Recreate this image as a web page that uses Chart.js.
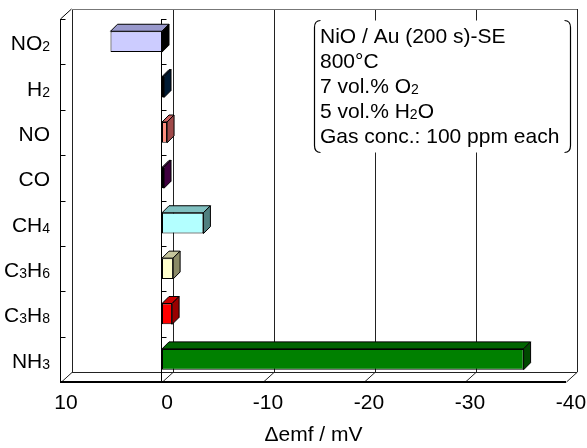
<!DOCTYPE html>
<html>
<head>
<meta charset="utf-8">
<script src="https://cdn.jsdelivr.net/npm/chart.js@4.4.1/dist/chart.umd.min.js"></script>
<style>
    html, body { margin: 0; padding: 0; background: #fff; }
</style>
</head>
<body>
<canvas id="graficoEmf" width="587" height="448"></canvas>
<script>
// Dados
const gases = ['NO₂', 'H₂', 'NO', 'CO', 'CH₄', 'C₃H₆', 'C₃H₈', 'NH₃'];
const deltaEmf = [5.1, -0.2, -0.5, -0.2, -4.1, -1.1, -1.0, -35.8];
const xTicks = [10, 0, -10, -20, -30, -40];
const infoLinhas = ['NiO / Au (200 s)-SE', '800°C', '7 vol.% O₂', '5 vol.% H₂O', 'Gas conc.: 100 ppm each'];

// Cores (frente, topo, lado) de cada barra
const corFrente = ['#ccccff', '#003366', '#ff9080', '#660066', '#b3ffff', '#ffffcc', '#ff0000', '#008000'];
const corTopo   = ['#9999cc', '#002244', '#c86060', '#4d004d', '#80c0c0', '#c4c49c', '#cc0000', '#006400'];
const corLado   = ['#000000', '#001a33', '#a04a4a', '#400040', '#508080', '#8a8a66', '#990000', '#004800'];

const FONTE = '"Liberation Sans", Arial, sans-serif';
const TAM = 21;
const DX = 11, DY = 10;   // profundidade das paredes
const BDX = 7, BDY = 7;   // profundidade das barras
const SUBS = '₀₁₂₃₄₅₆₇₈₉';

function linha(ctx, x1, y1, x2, y2) {
    ctx.beginPath();
    ctx.moveTo(x1, y1);
    ctx.lineTo(x2, y2);
    ctx.stroke();
}

function poligono(ctx, pts, cor) {
    ctx.beginPath();
    ctx.moveTo(pts[0][0], pts[0][1]);
    pts.slice(1).forEach(p => ctx.lineTo(p[0], p[1]));
    ctx.closePath();
    ctx.fillStyle = cor;
    ctx.fill();
    ctx.stroke();
}

// texto com índices (subscritos) menores
function textoRico(ctx, texto, x, y, align) {
    const partes = [];
    for (const ch of texto) {
        const i = SUBS.indexOf(ch);
        const sub = i >= 0;
        const c = sub ? String(i) : ch;
        const ult = partes[partes.length - 1];
        if (ult && ult.sub === sub) ult.t += c; else partes.push({ t: c, sub: sub });
    }
    let total = 0;
    partes.forEach(p => {
        ctx.font = (p.sub ? 14 : TAM) + 'px ' + FONTE;
        p.w = ctx.measureText(p.t).width;
        total += p.w;
    });
    let cx = align === 'right' ? x - total : x;
    ctx.textAlign = 'left';
    ctx.textBaseline = 'alphabetic';
    ctx.fillStyle = '#000';
    partes.forEach(p => {
        ctx.font = (p.sub ? 14 : TAM) + 'px ' + FONTE;
        ctx.fillText(p.t, cx, p.sub ? y + 1 : y);
        cx += p.w;
    });
}

const grafico3d = {
    id: 'grafico3d',
    beforeDatasetsDraw(chart) {
        const { ctx, chartArea: a, scales: { x, y } } = chart;
        const L = a.left, R = a.right, T = a.top, B = a.bottom;
        ctx.save();
        ctx.lineWidth = 1;

        // parede do fundo: linhas de grade + diagonais do piso
        ctx.strokeStyle = '#222';
        xTicks.forEach(v => {
            const px = Math.round(x.getPixelForValue(v)) + 0.5;
            linha(ctx, px + DX, T - DY, px + DX, B - DY);
            linha(ctx, px, B, px + DX, B - DY);
        });
        linha(ctx, L + DX, B - DY + 0.5, R + DX, B - DY + 0.5);
        ctx.strokeStyle = '#777';
        linha(ctx, L + DX, T - DY + 0.5, R + DX, T - DY + 0.5);

        // parede esquerda e plano do zero
        ctx.strokeStyle = '#000';
        const xl = Math.round(L) - 0.5;
        linha(ctx, xl, T, xl, B);
        linha(ctx, xl, T, xl + DX, T - DY);
        const z = Math.round(x.getPixelForValue(0)) - 0.5;
        linha(ctx, z, T, z, B);
        for (let i = 0; i <= gases.length; i++) {
            const py = Math.round(y.getPixelForValue(i - 0.5)) + 0.5;
            linha(ctx, xl, py, xl + 5, py);
            linha(ctx, z, py, z + 5, py);
        }

        // eixo da frente
        ctx.fillStyle = '#000';
        ctx.fillRect(L - 1, B - 1, R - L + 1, 2);
        ctx.restore();
    },
    afterDatasetsDraw(chart) {
        const { ctx } = chart;
        const meta = chart.getDatasetMeta(0);
        ctx.save();
        ctx.lineWidth = 1;
        ctx.strokeStyle = '#000';
        meta.data.forEach((barra, i) => {
            const p = barra.getProps(['x', 'y', 'base', 'height'], true);
            const esq = Math.min(p.x, p.base), dir = Math.max(p.x, p.base);
            const topo = p.y - p.height / 2, baixo = p.y + p.height / 2;
            poligono(ctx, [[esq, topo], [esq + BDX, topo - BDY], [dir + BDX, topo - BDY], [dir, topo]], corTopo[i]);
            poligono(ctx, [[dir, topo], [dir + BDX, topo - BDY], [dir + BDX, baixo - BDY], [dir, baixo]], corLado[i]);
        });
        ctx.restore();
    },
    afterDraw(chart) {
        const { ctx, scales: { y } } = chart;
        ctx.save();
        // rótulos das categorias
        gases.forEach((g, i) => {
            textoRico(ctx, g, 50, y.getPixelForValue(i) + 8.5, 'right');
        });

        // caixa de informações
        const bx1 = 314.5, bx2 = 570.5, by1 = 20.5, by2 = 152.5;
        ctx.fillStyle = '#fff';
        ctx.fillRect(bx1, by1, bx2 - bx1, by2 - by1);
        ctx.strokeStyle = '#000';
        ctx.lineWidth = 1.2;
        ctx.beginPath();
        ctx.moveTo(bx1 + 6, by1);
        ctx.quadraticCurveTo(bx1, by1, bx1, by1 + 7);
        ctx.lineTo(bx1, by2 - 7);
        ctx.quadraticCurveTo(bx1, by2, bx1 + 6, by2);
        ctx.moveTo(bx2 - 6, by1);
        ctx.quadraticCurveTo(bx2, by1, bx2, by1 + 7);
        ctx.lineTo(bx2, by2 - 7);
        ctx.quadraticCurveTo(bx2, by2, bx2 - 6, by2);
        ctx.stroke();
        infoLinhas.forEach((t, i) => {
            textoRico(ctx, t, 320, 43.3 + i * 25, 'left');
        });
        ctx.restore();
    }
};

new Chart(document.getElementById('graficoEmf'), {
    type: 'bar',
    data: {
        labels: gases,
        datasets: [{
            data: deltaEmf,
            backgroundColor: corFrente,
            borderColor: '#000',
            borderWidth: 1,
            borderSkipped: false,
            barPercentage: 0.46,
            categoryPercentage: 1
        }]
    },
    options: {
        indexAxis: 'y',
        responsive: false,
        animation: false,
        devicePixelRatio: 1,
        layout: { padding: { top: 19, right: 21, left: 0, bottom: 0 } },
        plugins: { legend: { display: false }, tooltip: { enabled: false } },
        scales: {
            x: {
                type: 'linear',
                reverse: true,
                min: -40,
                max: 10,
                afterBuildTicks: s => { s.ticks = xTicks.map(v => ({ value: v })); },
                afterFit: s => { s.height = 66; s.paddingLeft = 0; s.paddingRight = 0; },
                grid: { display: false, drawTicks: false },
                border: { display: false },
                ticks: {
                    color: '#000',
                    font: { family: FONTE, size: TAM },
                    padding: 9,
                    labelOffset: 5,
                    maxRotation: 0
                },
                title: {
                    display: true,
                    text: 'Δemf / mV',
                    color: '#000',
                    font: { family: FONTE, size: TAM },
                    padding: { top: 0, bottom: 0 }
                }
            },
            y: {
                type: 'category',
                afterFit: s => { s.width = 61; },
                grid: { display: false, drawTicks: false },
                border: { display: false },
                ticks: { display: false }
            }
        }
    },
    plugins: [grafico3d]
});
</script>
</body>
</html>
